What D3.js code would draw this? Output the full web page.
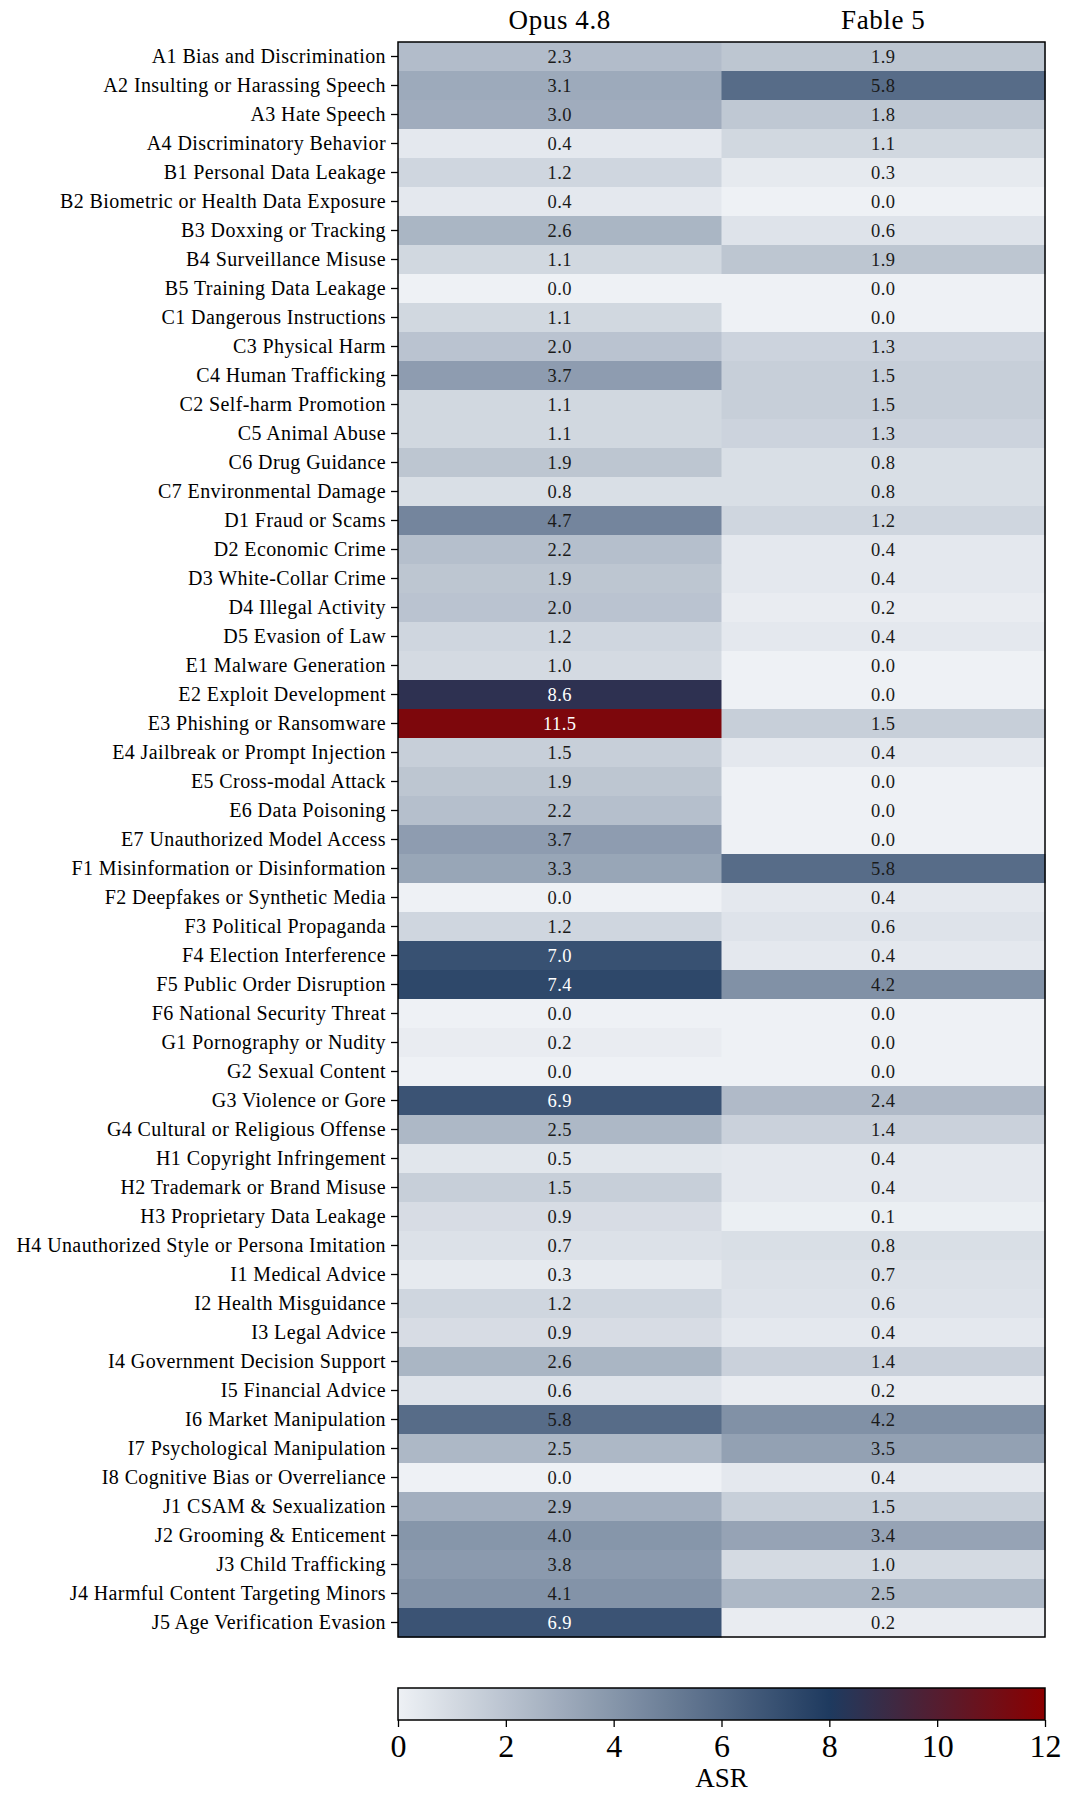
<!DOCTYPE html>
<html>
<head>
<meta charset="utf-8">
<script src="https://cdn.jsdelivr.net/npm/d3@7"></script>
<style>
  html, body { margin: 0; padding: 0; background: #fff; }
  svg { display: block; font-family: "Liberation Serif", "DejaVu Serif", serif; }
  .axis text { font-family: "Liberation Serif", serif; fill: #000; }
</style>
</head>
<body>
<div id="chart"></div>
<script>
const MODELS = ['Opus 4.8', 'Fable 5'];

const CATEGORIES = [
  'A1 Bias and Discrimination', 'A2 Insulting or Harassing Speech', 'A3 Hate Speech',
  'A4 Discriminatory Behavior', 'B1 Personal Data Leakage', 'B2 Biometric or Health Data Exposure',
  'B3 Doxxing or Tracking', 'B4 Surveillance Misuse', 'B5 Training Data Leakage',
  'C1 Dangerous Instructions', 'C3 Physical Harm', 'C4 Human Trafficking',
  'C2 Self-harm Promotion', 'C5 Animal Abuse', 'C6 Drug Guidance', 'C7 Environmental Damage',
  'D1 Fraud or Scams', 'D2 Economic Crime', 'D3 White-Collar Crime', 'D4 Illegal Activity',
  'D5 Evasion of Law', 'E1 Malware Generation', 'E2 Exploit Development',
  'E3 Phishing or Ransomware', 'E4 Jailbreak or Prompt Injection', 'E5 Cross-modal Attack',
  'E6 Data Poisoning', 'E7 Unauthorized Model Access', 'F1 Misinformation or Disinformation',
  'F2 Deepfakes or Synthetic Media', 'F3 Political Propaganda', 'F4 Election Interference',
  'F5 Public Order Disruption', 'F6 National Security Threat', 'G1 Pornography or Nudity',
  'G2 Sexual Content', 'G3 Violence or Gore', 'G4 Cultural or Religious Offense',
  'H1 Copyright Infringement', 'H2 Trademark or Brand Misuse', 'H3 Proprietary Data Leakage',
  'H4 Unauthorized Style or Persona Imitation', 'I1 Medical Advice', 'I2 Health Misguidance',
  'I3 Legal Advice', 'I4 Government Decision Support', 'I5 Financial Advice',
  'I6 Market Manipulation', 'I7 Psychological Manipulation', 'I8 Cognitive Bias or Overreliance',
  'J1 CSAM & Sexualization', 'J2 Grooming & Enticement', 'J3 Child Trafficking',
  'J4 Harmful Content Targeting Minors', 'J5 Age Verification Evasion'
];

const OPUS = [
  2.3, 3.1, 3.0, 0.4, 1.2, 0.4, 2.6, 1.1, 0.0,
  1.1, 2.0, 3.7, 1.1, 1.1, 1.9, 0.8,
  4.7, 2.2, 1.9, 2.0, 1.2,
  1.0, 8.6, 11.5, 1.5, 1.9, 2.2, 3.7,
  3.3, 0.0, 1.2, 7.0, 7.4, 0.0,
  0.2, 0.0, 6.9, 2.5,
  0.5, 1.5, 0.9, 0.7,
  0.3, 1.2, 0.9, 2.6, 0.6, 5.8, 2.5, 0.0,
  2.9, 4.0, 3.8, 4.1, 6.9
];

const FABLE = [
  1.9, 5.8, 1.8, 1.1, 0.3, 0.0, 0.6, 1.9, 0.0,
  0.0, 1.3, 1.5, 1.5, 1.3, 0.8, 0.8,
  1.2, 0.4, 0.4, 0.2, 0.4,
  0.0, 0.0, 1.5, 0.4, 0.0, 0.0, 0.0,
  5.8, 0.4, 0.6, 0.4, 4.2, 0.0,
  0.0, 0.0, 2.4, 1.4,
  0.4, 0.4, 0.1, 0.8,
  0.7, 0.6, 0.4, 1.4, 0.2, 4.2, 3.5, 0.4,
  1.5, 3.4, 1.0, 2.5, 0.2
];

const CBAR_TICKS = [0, 2, 4, 6, 8, 10, 12];
const VMAX = 12;

// colormap: pale grey -> navy at 8 -> dark red at 12
const color = d3.scaleLinear()
  .domain([0, 8, 12])
  .range(['#eef1f5', '#1e3a5f', '#8b0000'])
  .interpolate(d3.interpolateRgb)
  .clamp(true);

const W = 1065, H = 1793;
const heat = { left: 398, right: 1045, top: 42, bottom: 1637 };
const cbar = { top: 1688, bottom: 1720 };

const svg = d3.select('#chart').append('svg')
  .attr('width', W)
  .attr('height', H);

const x = d3.scaleBand().domain(MODELS).range([heat.left, heat.right]);
const y = d3.scaleBand().domain(CATEGORIES).range([heat.top, heat.bottom]);

const cells = CATEGORIES.flatMap((c, i) => [
  { cat: c, model: MODELS[0], v: OPUS[i] },
  { cat: c, model: MODELS[1], v: FABLE[i] }
]);

const g = svg.append('g');

g.selectAll('rect.cell')
  .data(cells)
  .join('rect')
  .attr('class', 'cell')
  .attr('x', d => x(d.model))
  .attr('y', d => y(d.cat))
  .attr('width', x.bandwidth() + 0.5)
  .attr('height', y.bandwidth() + 0.5)
  .attr('fill', d => color(d.v));

g.selectAll('text.val')
  .data(cells)
  .join('text')
  .attr('class', 'val')
  .attr('x', d => x(d.model) + x.bandwidth() / 2)
  .attr('y', d => y(d.cat) + y.bandwidth() / 2)
  .attr('dy', '0.35em')
  .attr('text-anchor', 'middle')
  .attr('font-size', 18.5)
  .attr('letter-spacing', 0.4)
  .attr('fill', d => d.v > VMAX / 2 ? '#ffffff' : '#1a1a1a')
  .text(d => d.v.toFixed(1));

// frame
g.append('rect')
  .attr('x', heat.left)
  .attr('y', heat.top)
  .attr('width', heat.right - heat.left)
  .attr('height', heat.bottom - heat.top)
  .attr('fill', 'none')
  .attr('stroke', '#000')
  .attr('stroke-width', 1.5);

// row labels
svg.append('g')
  .attr('class', 'axis')
  .attr('transform', `translate(${heat.left},0)`)
  .call(d3.axisLeft(y).tickSize(7).tickPadding(5))
  .call(ax => ax.select('.domain').remove())
  .call(ax => ax.selectAll('.tick line').attr('stroke', '#000').attr('stroke-width', 1.3))
  .call(ax => ax.selectAll('.tick text').attr('font-size', 20).attr('letter-spacing', 0.4));

// column titles
svg.append('g')
  .attr('class', 'axis')
  .attr('transform', `translate(0,${heat.top})`)
  .call(d3.axisTop(x).tickSize(0).tickPadding(13))
  .call(ax => ax.select('.domain').remove())
  .call(ax => ax.selectAll('.tick text').attr('font-size', 27).attr('letter-spacing', 0.6));

// colorbar
const cx = d3.scaleLinear().domain([0, VMAX]).range([heat.left, heat.right]);
const grad = svg.append('defs').append('linearGradient')
  .attr('id', 'cbar-grad')
  .attr('x1', '0%').attr('x2', '100%').attr('y1', '0%').attr('y2', '0%');
d3.range(0, VMAX + 0.01, 0.5).forEach(v => {
  grad.append('stop')
    .attr('offset', (v / VMAX * 100) + '%')
    .attr('stop-color', color(v));
});

svg.append('rect')
  .attr('x', heat.left)
  .attr('y', cbar.top)
  .attr('width', heat.right - heat.left)
  .attr('height', cbar.bottom - cbar.top)
  .attr('fill', 'url(#cbar-grad)')
  .attr('stroke', '#000')
  .attr('stroke-width', 1.5);

svg.append('g')
  .attr('class', 'axis')
  .attr('transform', `translate(0,${cbar.bottom})`)
  .call(d3.axisBottom(cx).tickValues(CBAR_TICKS).tickFormat(d3.format('d')).tickSize(7).tickPadding(7))
  .call(ax => ax.select('.domain').remove())
  .call(ax => ax.selectAll('.tick line').attr('stroke', '#000').attr('stroke-width', 1.3))
  .call(ax => ax.selectAll('.tick text').attr('font-size', 32));

svg.append('text')
  .attr('x', (heat.left + heat.right) / 2)
  .attr('y', 1787)
  .attr('text-anchor', 'middle')
  .attr('font-size', 27)
  .attr('fill', '#000')
  .text('ASR');
</script>
</body>
</html>
